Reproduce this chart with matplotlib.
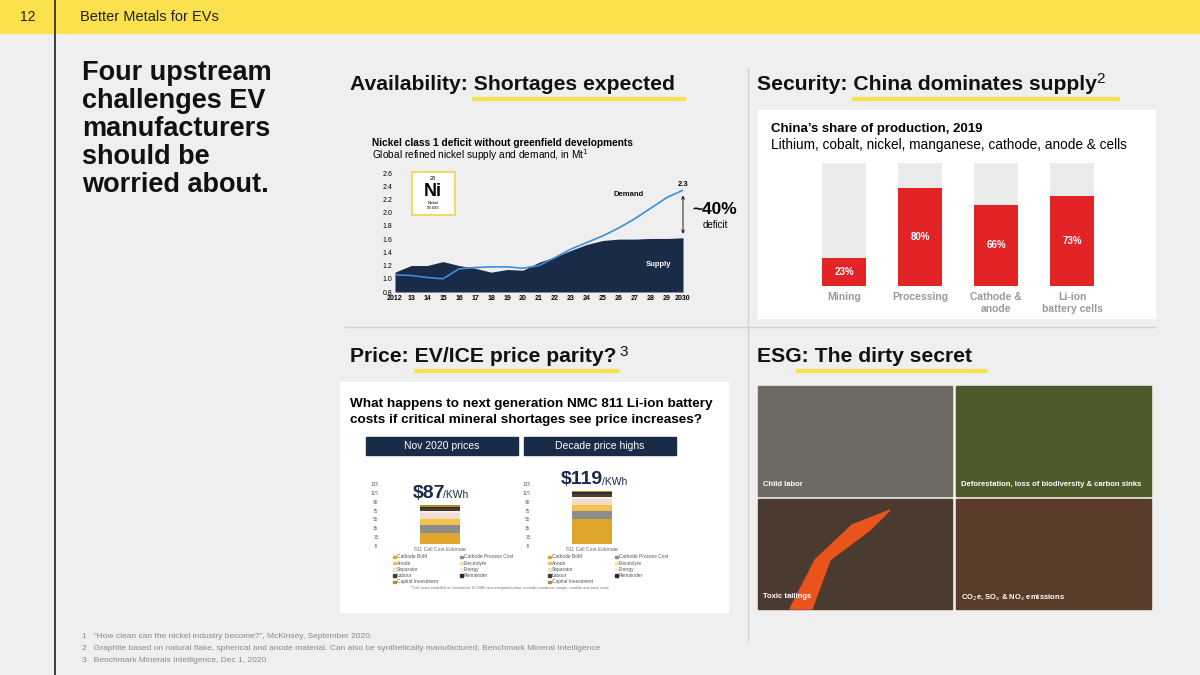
import matplotlib
matplotlib.use("Agg")
import matplotlib.pyplot as plt
from matplotlib.patches import Rectangle
import numpy as np

plt.rcParams['font.family'] = ['Liberation Sans', 'DejaVu Sans']

years = list(range(2012, 2031))
year_labels = ['2012','13','14','15','16','17','18','19','20','21','22','23','24','25','26','27','28','29','2030']
supply = [1.10,1.20,1.20,1.26,1.20,1.16,1.10,1.14,1.13,1.25,1.33,1.43,1.52,1.58,1.60,1.60,1.61,1.61,1.62]
demand = [1.06,1.05,1.02,1.00,1.15,1.17,1.18,1.18,1.16,1.20,1.32,1.45,1.55,1.65,1.77,1.91,2.07,2.23,2.34]

china_cats = ['Mining', 'Processing', 'Cathode &\nanode', 'Li-ion\nbattery cells']
china_share = [23, 80, 66, 73]

cost_components = ['Cathode BoM','Cathode Process Cost','Anode','Electrolyte','Separator','Energy','Labour','Remainder','Capital Investment']
cost_colors = ['#E0A52C','#8C8C8C','#F2C14E','#F6DFA0','#F2DCD8','#F7EEDC','#4A3F2E','#2B2B2B','#B98A2A']
cost_nov2020 = [25,17,14,3,10,4,8,3,3]
cost_decade = [57,17,14,3,10,4,8,3,3]

W, H = 1200, 675
fig = plt.figure(figsize=(12, 6.75), dpi=100)
fig.patch.set_facecolor('#EFEFEF')
bg = fig.add_axes([0, 0, 1, 1]); bg.set_xlim(0, W); bg.set_ylim(H, 0); bg.axis('off')
NAVY = '#1A2B47'
YEL = '#FBE14D'

bg.add_patch(Rectangle((0, 0), W, 33, color=YEL))
bg.plot([55, 55], [0, H], color='#222', lw=1.2)
bg.text(20, 17, '12', fontsize=10, va='center', color='#222')
bg.text(80, 17, 'Better Metals for EVs', fontsize=10.5, va='center', color='#222')
bg.text(82, 60, 'Four upstream\nchallenges EV\nmanufacturers\nshould be\nworried about.', fontsize=19.5,
        fontweight='bold', va='top', linespacing=1.1, color='#111')

HF = 15.2
bg.text(350, 85, 'Availability: Shortages expected', fontsize=HF, fontweight='bold', va='center', color='#111')
bg.plot([474, 684], [99, 99], color=YEL, lw=3)
bg.text(757, 85, 'Security: China dominates supply', fontsize=HF, fontweight='bold', va='center', color='#111')
bg.text(1096, 79, '2', fontsize=11, va='center', color='#111')
bg.plot([854, 1118], [99, 99], color=YEL, lw=3)
bg.text(350, 357, 'Price: EV/ICE price parity?', fontsize=HF, fontweight='bold', va='center', color='#111')
bg.text(619, 352, '3', fontsize=11, va='center', color='#111')
bg.plot([416, 617], [371, 371], color=YEL, lw=3)
bg.text(757, 357, 'ESG: The dirty secret', fontsize=HF, fontweight='bold', va='center', color='#111')
bg.plot([798, 985], [371, 371], color=YEL, lw=3)

bg.plot([345, 1155], [327, 327], color='#D0D0D0', lw=1)
bg.plot([748, 748], [68, 640], color='#D0D0D0', lw=1)

bg.add_patch(Rectangle((758, 110), 397, 208, color='white'))
bg.add_patch(Rectangle((340, 382), 388, 230, color='white'))

# nickel
bg.text(372, 143, 'Nickel class 1 deficit without greenfield developments', fontsize=7.3, fontweight='bold', va='center')
bg.text(372, 155, 'Global refined nickel supply and demand, in Mt$^1$', fontsize=7.3, va='center')
ax = fig.add_axes([395/W, 1-292/H, 288/W, 119/H])
ax.set_facecolor('none')
ax.fill_between(years, 0.8, supply, color=NAVY, lw=0)
ax.plot(years, demand, color='#3B8FD9', lw=1.2)
ax.set_xlim(2012, 2030); ax.set_ylim(0.8, 2.6)
yt = np.arange(0.8, 2.61, 0.2)
ax.set_yticks(yt); ax.set_yticklabels([f'{v:.1f}' for v in yt], fontsize=5)
ax.set_xticks(years); ax.set_xticklabels(year_labels, fontsize=5, fontweight='bold')
for s in ax.spines.values(): s.set_visible(False)
ax.tick_params(length=0, pad=2)
ax.text(2028.5, 1.2, 'Supply', color='white', fontsize=5.5, fontweight='bold', ha='center')
ax.text(2026.6, 2.25, 'Demand', color='#111', fontsize=5.5, fontweight='bold', ha='center')
ax.text(2030, 2.38, '2.3', fontsize=5.5, fontweight='bold', ha='center', va='bottom')
ax.annotate('', xy=(2030, 1.64), xytext=(2030, 2.3), arrowprops=dict(arrowstyle='<->', lw=0.6, mutation_scale=5), annotation_clip=False)
bg.text(715, 209, '~40%', fontsize=12.5, fontweight='bold', ha='center', va='center')
bg.text(715, 225, 'deficit', fontsize=7, ha='center', va='center')

# China
bg.text(771, 129, 'China’s share of production, 2019', fontsize=9.5, fontweight='bold', va='center')
bg.text(771, 145, 'Lithium, cobalt, nickel, manganese, cathode, anode & cells', fontsize=9.8, va='center')
ax2 = fig.add_axes([806/W, 1-286/H, 304/W, 123/H])
x = np.arange(4)
ax2.bar(x, [100]*4, width=0.58, color='#EBEBEB')
ax2.bar(x, china_share, width=0.58, color='#E32426')
for i, v in enumerate(china_share):
    ax2.text(i, v/2, f'{v}%', color='white', fontsize=7, fontweight='bold', ha='center', va='center')
ax2.set_xlim(-0.5, 3.5); ax2.set_ylim(0, 100); ax2.axis('off')
for i, c in enumerate(china_cats):
    ax2.text(i, -5, c, ha='center', va='top', fontsize=7.5, fontweight='bold', color='#999')

# price
bg.text(350, 404, 'What happens to next generation NMC 811 Li-ion battery', fontsize=9.7, fontweight='bold', va='center')
bg.text(350, 420, 'costs if critical mineral shortages see price increases?', fontsize=9.7, fontweight='bold', va='center')
bg.add_patch(Rectangle((366, 437), 152, 18, color=NAVY))
bg.text(442, 446, 'Nov 2020 prices', color='white', fontsize=7.5, ha='center', va='center')
bg.add_patch(Rectangle((524, 437), 152, 18, color=NAVY))
bg.text(600, 446, 'Decade price highs', color='white', fontsize=7.5, ha='center', va='center')

def cost_chart(x0, vals, lx):
    a = fig.add_axes([x0/W, 1-546/H, 120/W, 62/H])
    a.set_facecolor('none')
    bottom = 0
    for v, c in zip(vals, cost_colors):
        a.bar(0, v, bottom=bottom, width=0.72, color=c)
        bottom += v
    a.set_xlim(-1.1, 1.1); a.set_ylim(-5, 135)
    a.set_yticks(range(-5, 136, 20)); a.set_yticklabels([str(v) for v in range(-5, 136, 20)], fontsize=3.5, color='#666')
    a.set_xticks([0]); a.set_xticklabels(['811 Cell Cost Estimate'], fontsize=3.7, color='#666')
    for s in a.spines.values(): s.set_visible(False)
    a.tick_params(length=0, pad=1)
    for k, (n, c) in enumerate(zip(cost_components, cost_colors)):
        col, row = k % 2, k // 2
        yy = 557 + row * 6.2
        xx = lx + col * 67
        bg.add_patch(Rectangle((xx, yy - 1.3), 2.5, 2.5, color=c))
        bg.text(xx + 4, yy, n, fontsize=3.5, va='center', color='#555')

cost_chart(380, cost_nov2020, 393)
cost_chart(532, cost_decade, 548)
bg.text(510, 589, '*Cell costs modelled on theoretical 10 GWh new integrated plant, excludes producer margin, module and pack costs', fontsize=2.8, color='#777', ha='center')

ov = fig.add_axes([0, 0, 1, 1], zorder=10); ov.set_xlim(0, W); ov.set_ylim(H, 0); ov.axis('off')
ov.add_patch(Rectangle((412, 172), 43, 43, fc='white', ec='#F2D96B', lw=1.5))
ov.text(433, 178, '28', fontsize=4, ha='center', va='center')
ov.text(433, 191, 'Ni', fontsize=13, fontweight='bold', ha='center', va='center')
ov.text(433, 203, 'Nickel', fontsize=3, ha='center', va='center')
ov.text(433, 208, '58.693', fontsize=3, ha='center', va='center')
ov.text(413, 493, '$87', fontsize=14, fontweight='bold', color=NAVY, va='center')
ov.text(443, 495, '/KWh', fontsize=7.5, color=NAVY, va='center')
ov.text(561, 480, '$119', fontsize=14, fontweight='bold', color=NAVY, va='center')
ov.text(602, 482, '/KWh', fontsize=7.5, color=NAVY, va='center')

tiles = [((758, 386, 194, 110), '#6E6A63', 'Child labor'),
         ((956, 386, 195, 110), '#4F5A2A', 'Deforestation, loss of biodiversity & carbon sinks'),
         ((758, 499, 194, 110), '#4A3A30', 'Toxic tailings'),
         ((956, 499, 195, 110), '#5A3A28', 'CO$_2$e, SO$_x$ & NO$_x$ emissions')]
for (x0, y0, w, h), c, lab in tiles:
    ov.add_patch(Rectangle((x0, y0), w, h, color=c))
    if lab == 'Toxic tailings':
        ov.fill([790, 812, 830, 870, 890, 852, 815], [609, 609, 560, 530, 510, 525, 560], color='#E8541C')
    ov.text(x0 + 5, y0 + h - 12, lab, color='white', fontsize=5.5, fontweight='bold', va='center')

notes = ['1   "How clean can the nickel industry become?", McKinsey, September 2020.',
         '2   Graphite based on natural flake, spherical and anode material. Can also be synthetically manufactured; Benchmark Mineral Intelligence',
         '3   Benchmark Minerals Intelligence, Dec 1, 2020']
for i, n in enumerate(notes):
    bg.text(82, 636 + i * 12, n, fontsize=6, color='#888', va='center')

fig.savefig('out.png', dpi=100, facecolor=fig.get_facecolor())
